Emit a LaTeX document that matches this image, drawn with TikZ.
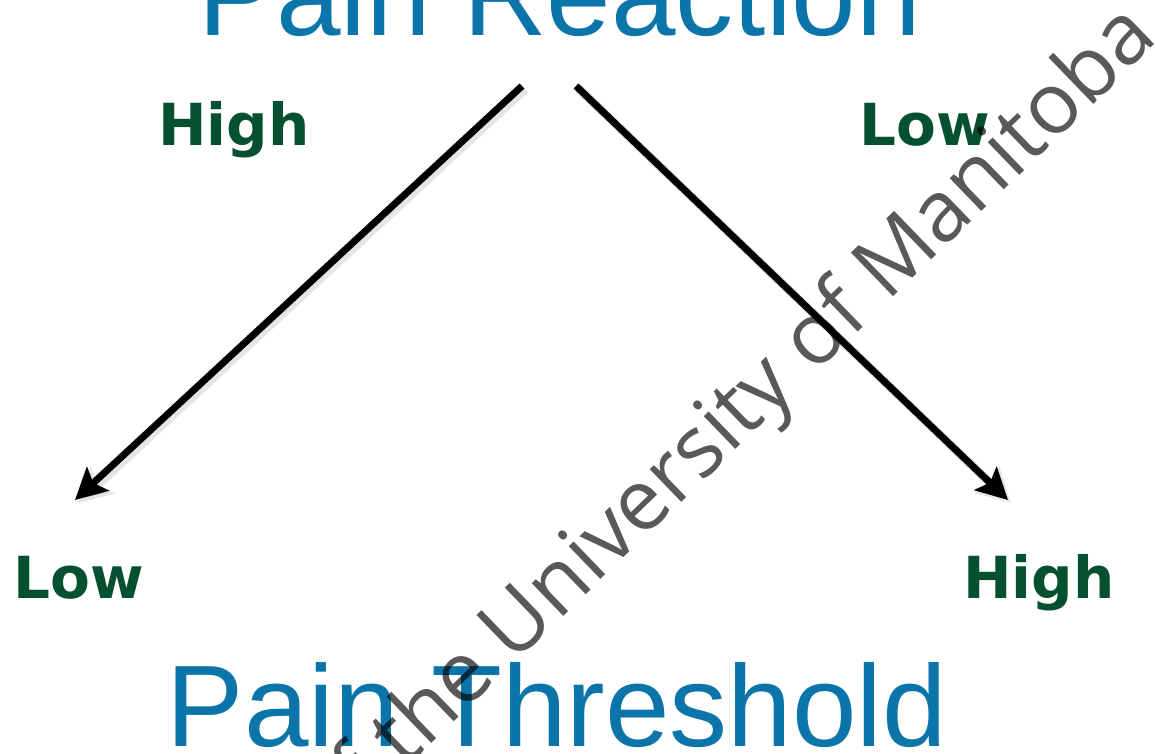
\documentclass[tikz,border=0pt]{standalone}
\usepackage{fontspec}
\setmainfont{Liberation Sans}
\newfontfamily\labfont{DejaVu Sans}
\newfontfamily\wmfont{Open Sans}
\usetikzlibrary{arrows.meta}
\definecolor{titleblue}{RGB}{11,117,170}
\definecolor{labgreen}{RGB}{4,80,48}
\begin{document}
\begin{tikzpicture}[x=1pt,y=-1pt,
  title/.style={font=\fontsize{116}{116}\selectfont, text=titleblue, inner sep=0pt, anchor=base},
  lab/.style={font=\labfont\bfseries\fontsize{58}{58}\selectfont, text=labgreen, inner sep=0pt, anchor=base},
  arr/.style={line width=7pt, draw=black, -{Stealth[length=31pt,width=32pt,inset=6pt]}},
  arrshadow/.style={line width=9pt, draw=black, opacity=0.10, -{Stealth[length=33pt,width=35pt,inset=6pt]}},
  wm/.style={font=\wmfont\fontsize{85}{85}\selectfont, text=black, opacity=0.65, inner sep=0pt, anchor=base east, rotate=44}]
\useasboundingbox (0,0) rectangle (1155,753);
\clip (0,0) rectangle (1155,753);
\fill[white] (0,0) rectangle (1155,753);
\node[title] (react) at (560,35) {Pain Reaction};
\node[title] (thresh) at (557,746) {Pain Threshold};
\node[lab] (hightl) at (234,145) {High};
\node[lab] (lowtr) at (925,145) {Low};
\node[lab] (lowbl) at (79,598) {Low};
\node[lab] (highbr) at (1039,598) {High};
\coordinate (ls) at (522,86);
\coordinate (le) at (75,500);
\coordinate (rs) at (576,86);
\coordinate (re) at (1008,500);
\coordinate (lss) at (525,89);
\coordinate (les) at (78,503);
\coordinate (rss) at (579,89);
\coordinate (res) at (1011,503);
\draw[arrshadow] (lss) -- (les);
\draw[arrshadow] (rss) -- (res);
\draw[arr] (ls) -- (le);
\draw[arr] (rs) -- (re);
\node[wm] (wmark) at (1160,40) {of the University of Manitoba};
\end{tikzpicture}
\end{document}
